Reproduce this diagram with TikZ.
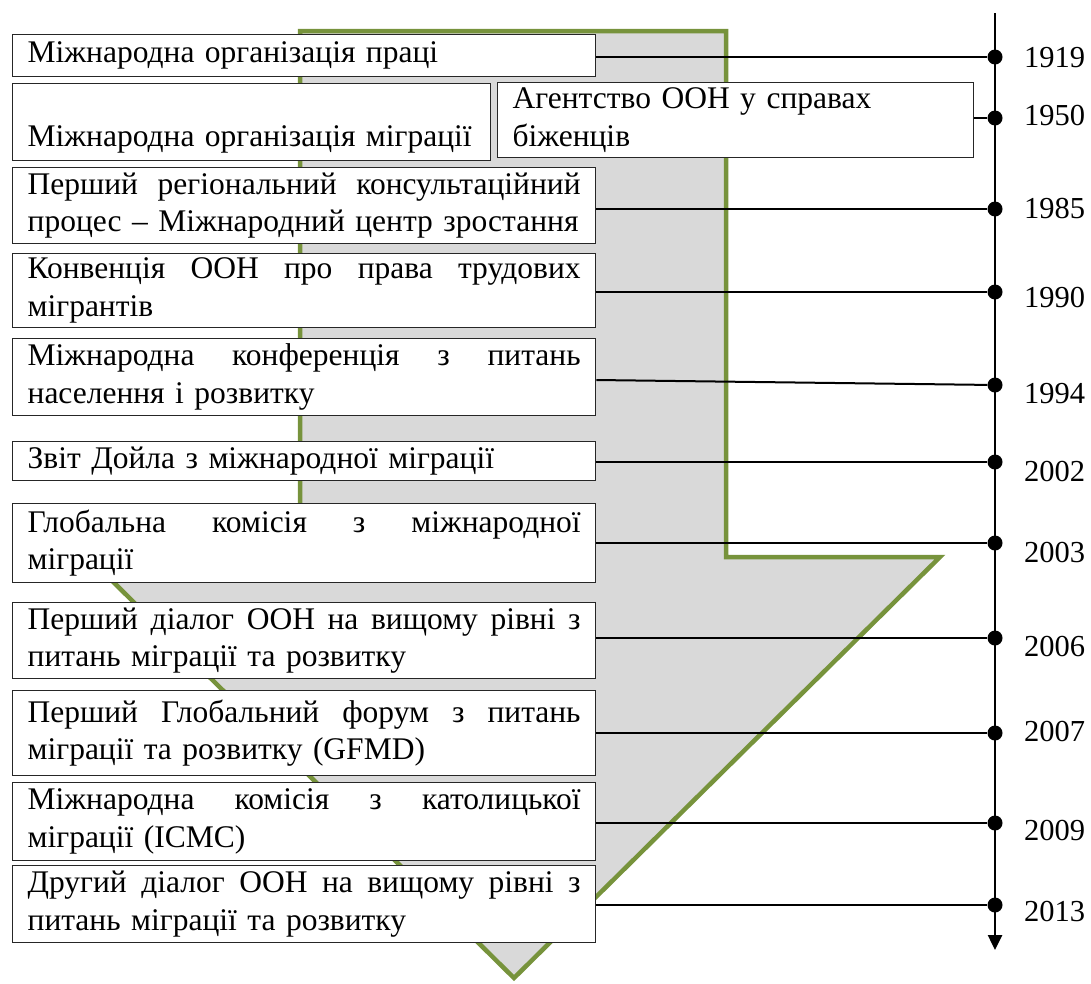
\documentclass[tikz,border=0pt]{standalone}
\usepackage{fontspec}
\setmainfont{Liberation Serif}
\usetikzlibrary{arrows.meta}
\definecolor{arrowgreen}{RGB}{119,147,60}
\definecolor{arrowfill}{RGB}{217,217,217}
\newlength\bw
\setlength\bw{553pt}
\newcommand\justline[1]{{\spaceskip=0pt\xspaceskip=0pt\makebox[\bw][s]{#1}}}
\begin{document}
\begin{tikzpicture}[x=1pt,y=-1pt,
  evbox/.style={draw=black!85, line width=1.3pt, fill=white, anchor=north west,
    inner xsep=15pt, inner ysep=0pt, text width=#1, align=left,
    font=\fontsize{31.5}{37.5}\selectfont},
  evbox/.default=553pt,
  conn/.style={draw=black, line width=2pt},
  tdot/.style={circle, fill=black, inner sep=0pt, minimum size=15pt},
  yearlbl/.style={anchor=base west, inner sep=0pt, font=\fontsize{30.5}{36}\selectfont},
  bigarrow/.style={draw=arrowgreen, fill=arrowfill, line width=4.5pt, line join=miter},
  axis/.style={draw=black, line width=2.5pt, -{Triangle[length=15pt,width=14pt]}}
]
\useasboundingbox (0,0) rectangle (1091,983);

% big background arrow
\draw[bigarrow] (300,31) -- (726,31) -- (726,557) -- (940,557) -- (514,978)
  -- (88,557) -- (300,557) -- cycle;

% timeline
\coordinate (ttop) at (995,13);
\coordinate (tbot) at (995,950);
\draw[axis] (ttop) -- (tbot);

% dots
\node[tdot] (d1919) at (995,57) {};
\node[tdot] (d1950) at (995,118) {};
\node[tdot] (d1985) at (995,209) {};
\node[tdot] (d1990) at (995,292) {};
\node[tdot] (d1994) at (995,385) {};
\node[tdot] (d2002) at (995,462) {};
\node[tdot] (d2003) at (995,543) {};
\node[tdot] (d2006) at (995,638) {};
\node[tdot] (d2007) at (995,733) {};
\node[tdot] (d2009) at (995,823) {};
\node[tdot] (d2013) at (995,905) {};

% year labels
\node[yearlbl] (y1919) at (1024,67) {1919};
\node[yearlbl] (y1950) at (1024,125) {1950};
\node[yearlbl] (y1985) at (1024,218) {1985};
\node[yearlbl] (y1990) at (1024,307) {1990};
\node[yearlbl] (y1994) at (1024,403) {1994};
\node[yearlbl] (y2002) at (1024,481) {2002};
\node[yearlbl] (y2003) at (1024,562) {2003};
\node[yearlbl] (y2006) at (1024,656) {2006};
\node[yearlbl] (y2007) at (1024,741) {2007};
\node[yearlbl] (y2009) at (1024,840) {2009};
\node[yearlbl] (y2013) at (1024,921) {2013};

% boxes
\node[evbox, minimum height=42pt] (b1) at (12,34) {\mbox{Міжнародна організація праці}};
\node[evbox=448pt, minimum height=77pt] (b2) at (12,83) {\mbox{}\\[17pt]\mbox{Міжнародна організація міграції}};
\node[evbox=446pt, minimum height=75pt] (b2a) at (497,82) {\mbox{Агентство ООН у справах}\\\mbox{біженців}};
\node[evbox, minimum height=76pt] (b3) at (12,167) {\justline{Перший регіональний консультаційний}\\\mbox{процес – Міжнародний центр зростання}};
\node[evbox, minimum height=74pt] (b4) at (12,253) {\justline{Конвенція ООН про права трудових}\\\mbox{мігрантів}};
\node[evbox, minimum height=77pt] (b5) at (12,338) {\justline{Міжнародна конференція з питань}\\\mbox{населення і розвитку}};
\node[evbox, minimum height=39pt] (b6) at (12,441) {\mbox{Звіт Дойла з міжнародної міграції}};
\node[evbox, minimum height=79pt] (b7) at (12,503) {\justline{Глобальна комісія з міжнародної}\\\mbox{міграції}};
\node[evbox, minimum height=76pt] (b8) at (12,602) {\justline{Перший діалог ООН на вищому рівні з}\\\mbox{питань міграції та розвитку}};
\node[evbox, minimum height=85pt] (b9) at (12,690) {\justline{Перший Глобальний форум з питань}\\\mbox{міграції та розвитку (GFMD)}};
\node[evbox, minimum height=78pt] (b10) at (12,782) {\justline{Міжнародна комісія з католицької}\\\mbox{міграції (ICMC)}};
\node[evbox, minimum height=77pt] (b11) at (12,865) {\justline{Другий діалог ООН на вищому рівні з}\\\mbox{питань міграції та розвитку}};

% connectors
\draw[conn] (b1.east |- d1919) -- (d1919);
\draw[conn] (b2a.east |- d1950) -- (d1950);
\draw[conn] (b3.east |- d1985) -- (d1985);
\draw[conn] (b4.east |- d1990) -- (d1990);
\draw[conn] ([yshift=5pt]b5.east |- d1994) -- (d1994);
\draw[conn] (b6.east |- d2002) -- (d2002);
\draw[conn] (b7.east |- d2003) -- (d2003);
\draw[conn] (b8.east |- d2006) -- (d2006);
\draw[conn] (b9.east |- d2007) -- (d2007);
\draw[conn] (b10.east |- d2009) -- (d2009);
\draw[conn] (b11.east |- d2013) -- (d2013);
\end{tikzpicture}
\end{document}
